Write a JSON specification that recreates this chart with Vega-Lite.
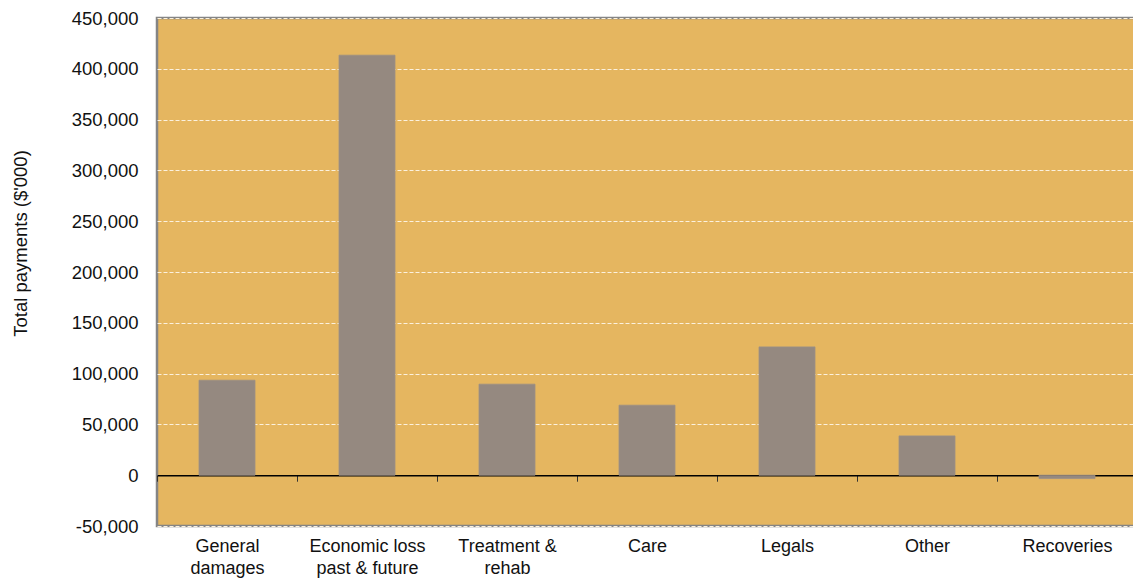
{
  "$schema": "https://vega.github.io/schema/vega-lite/v6.json",
  "autosize": {"type": "none"},
  "width": 980,
  "height": 508,
  "padding": {"left": 157, "top": 18, "right": 0, "bottom": 52},
  "background": "#ffffff",
  "config": {
    "font": "Liberation Sans",
    "view": {"fill": "#E5B660", "stroke": "#858585", "strokeWidth": 2.5}
  },
  "data": {
    "values": [
      {"category": "General damages", "payments": 93500},
      {"category": "Economic loss past & future", "payments": 413400},
      {"category": "Treatment & rehab", "payments": 89600},
      {"category": "Care", "payments": 68900},
      {"category": "Legals", "payments": 126300},
      {"category": "Other", "payments": 38700},
      {"category": "Recoveries", "payments": -3300}
    ]
  },
  "mark": {"type": "bar", "color": "#958980", "stroke": "#9c8f85", "strokeWidth": 0.8, "width": {"band": 0.4}},
  "encoding": {
    "x": {
      "field": "category",
      "type": "nominal",
      "sort": null,
      "scale": {"paddingInner": 0, "paddingOuter": 0},
      "axis": {
        "title": null,
        "labelAngle": 0,
        "offset": -50.8,
        "domainColor": "#000000",
        "domainWidth": 1.5,
        "tickBand": "extent",
        "tickColor": "#333333",
        "tickSize": 6,
        "tickWidth": 1,
        "labelPadding": 56,
        "labelFontSize": 18,
        "labelColor": "#111111",
        "labelLineHeight": 22,
        "labelBaseline": "top",
        "labelOverlap": false,
        "labelExpr": "datum.value == 'General damages' ? ['General', 'damages'] : datum.value == 'Economic loss past & future' ? ['Economic loss', 'past & future'] : datum.value == 'Treatment & rehab' ? ['Treatment &', 'rehab'] : datum.value"
      }
    },
    "y": {
      "field": "payments",
      "type": "quantitative",
      "scale": {"domain": [-50000, 450000], "nice": false, "zero": false},
      "axis": {
        "title": "Total payments ($'000)",
        "values": [-50000, 0, 50000, 100000, 150000, 200000, 250000, 300000, 350000, 400000, 450000],
        "format": ",d",
        "labelExpr": "replace(datum.label, '\u2212', '-')",
        "domain": false,
        "ticks": false,
        "labelPadding": 19,
        "labelFontSize": 18.5,
        "labelColor": "#111111",
        "labelOverlap": false,
        "labelFlush": false,
        "grid": true,
        "gridColor": "#FBF1DE",
        "gridDash": [4, 2],
        "gridWidth": 1,
        "titleFontSize": 18.5,
        "titleFontWeight": "normal",
        "titleColor": "#111111",
        "titleX": -137,
        "titleY": 225,
        "titleAngle": -90,
        "titleAlign": "center",
        "titleBaseline": "middle"
      }
    }
  }
}
